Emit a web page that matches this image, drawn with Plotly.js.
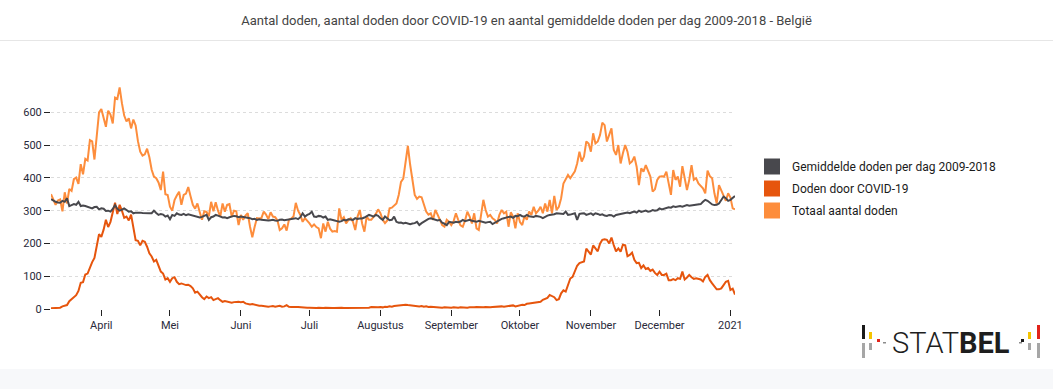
<!DOCTYPE html>
<html><head><meta charset="utf-8">
<script src="https://cdn.plot.ly/plotly-3.0.1.min.js"></script>
<style>html,body{margin:0;padding:0;background:#fff;} #chart{width:1053px;height:389px;}</style>
</head><body><div id="chart"></div>
<script>
// Daily series, 2020-03-10 .. 2021-01-03
const startDate = [2020, 2, 10];
const totaal = [
 350,336,318,331,334,298,356,322,366,360,396,401,382,442,411,458,453,515,511,456,534,600,
 610,586,556,605,593,566,645,641,676,628,590,572,582,551,578,560,512,480,468,472,489,463,425,404,399,386,363,419,350,348,
 312,300,332,346,358,318,348,352,372,344,318,306,322,296,272,298,296,283,327,298,326,300,282,322,297,318,320,282,300,298,256,
 287,272,285,292,251,219,250,277,276,278,297,288,274,295,282,280,270,241,246,258,239,272,276,282,324,300,287,266,277,270,
 261,251,258,250,246,216,261,236,266,245,236,238,236,307,272,280,261,272,277,266,241,282,302,261,236,282,272,272,280,290,304,
 292,272,262,270,307,309,316,322,348,388,398,445,498,440,395,348,336,343,341,320,297,288,292,272,302,288,272,256,251,272,266,
 256,268,292,272,255,251,270,297,282,261,292,246,241,287,333,302,282,287,277,272,261,287,302,292,297,251,295,282,246,292,
 265,256,284,272,297,287,312,292,300,312,292,322,297,333,292,345,302,312,338,383,394,409,399,409,420,444,480,450,465,511,505,
 480,536,505,511,531,568,561,511,531,551,485,470,500,444,475,500,480,444,450,465,434,378,429,419,439,419,404,358,365,394,
 404,405,404,419,383,348,424,394,404,373,436,404,363,394,439,394,399,383,375,368,353,422,405,399,353,322,378,360,348,330,353,
 340,307,304
];
const covid = [
 2,2,3,4,4,8,10,12,24,30,36,42,55,80,82,105,108,128,143,156,188,228,
 220,242,272,250,266,292,324,290,318,300,278,282,270,288,252,210,208,194,208,205,190,170,160,145,150,130,114,108,90,94,
 83,94,97,83,76,78,75,73,74,70,63,50,53,44,36,30,38,33,36,27,30,33,27,22,24,23,20,19,21,22,22,
 21,22,17,15,14,15,13,12,10,10,9,7,7,8,9,7,8,10,7,8,12,7,6,5,6,6,5,5,4,4,
 4,3,4,3,4,3,3,4,3,4,3,3,4,3,4,3,3,4,3,4,3,5,4,3,4,5,4,6,5,4,5,
 6,5,7,6,8,7,9,10,12,11,12,13,12,11,12,9,10,8,9,7,8,6,7,6,5,6,5,4,5,4,5,
 4,5,4,4,5,4,5,4,5,4,5,6,5,4,5,6,5,5,6,7,6,7,8,7,8,10,9,11,8,10,
 12,13,12,16,17,18,20,19,21,22,28,30,34,43,40,36,27,30,48,57,53,72,93,98,118,132,140,143,145,184,176,
 166,194,185,176,199,211,213,211,200,218,195,176,185,175,196,194,161,165,172,150,140,141,125,133,122,125,116,120,110,104,
 114,104,104,108,88,88,91,88,94,92,114,90,96,104,97,92,94,91,90,84,98,104,88,78,68,60,60,63,73,83,86,
 58,62,44
];
const gemiddeld = [
 335,330,327,325,324,330,327,338,314,317,320,318,327,314,316,314,312,310,307,311,312,304,
 307,306,299,300,297,305,317,306,300,303,307,302,297,298,292,294,295,294,293,292,293,292,292,300,293,287,290,288,282,285,
 274,287,284,292,288,287,290,286,289,287,287,283,282,279,281,285,287,272,280,282,287,285,283,279,280,277,280,282,284,283,280,
 282,281,279,278,277,274,275,272,274,272,271,270,270,271,272,270,269,272,273,271,272,273,274,274,277,274,280,292,282,287,
 290,297,282,281,284,283,279,282,272,274,273,270,268,266,268,272,270,274,273,272,277,275,276,276,279,282,287,285,282,287,284,
 277,272,282,275,271,272,282,266,263,264,261,263,262,259,261,262,266,256,262,266,272,275,277,274,271,270,272,263,260,256,266,
 264,263,266,265,267,272,268,270,272,269,267,266,269,267,266,263,265,266,259,263,266,272,275,277,280,281,282,278,284,283,
 287,283,282,287,283,282,281,284,283,281,277,282,285,287,287,289,292,291,289,290,297,287,288,289,292,272,290,291,292,287,290,
 292,287,292,290,287,289,285,284,287,286,282,287,289,290,292,293,294,292,295,297,294,300,296,298,300,297,298,302,300,301,
 307,304,306,308,310,309,313,311,312,314,312,314,317,315,316,317,318,319,320,327,333,330,324,319,317,318,322,333,343,338,330,
 333,338,345
];
const seriesNames = ['Gemiddelde doden per dag 2009-2018', 'Doden door COVID-19', 'Totaal aantal doden'];
const seriesColors = ['#48484d', '#e6550d', '#fd8d3c'];
const tickDates = ['2020-04-01','2020-05-01','2020-06-01','2020-07-01','2020-08-01','2020-09-01','2020-10-01','2020-11-01','2020-12-01','2021-01-01'];
const tickLabels = ['April','Mei','Juni','Juli','Augustus','September','Oktober','November','December','2021'];
const yTicks = [0,100,200,300,400,500,600];
const titleText = 'Aantal doden, aantal doden door COVID-19 en aantal gemiddelde doden per dag 2009-2018 - België';

function makeDates(n){
  const t0 = Date.UTC(startDate[0], startDate[1], startDate[2]);
  const out = [];
  for (let i = 0; i < n; i++) out.push(new Date(t0 + i*86400000).toISOString().slice(0,10));
  return out;
}
const dates = makeDates(totaal.length);

// pixel helpers for decorative shapes (plot area 51..735 x 80..309)
const L = 51, R = 735, T = 80, B = 309;
const px = x => (x - L) / (R - L);
const py = y => (B - y) / (B - T);

const traces = [
  {x: dates, y: totaal, type: 'scatter', mode: 'lines', name: seriesNames[2], showlegend: false,
   line: {color: seriesColors[2], width: 2}, hoverinfo: 'skip'},
  {x: dates, y: covid, type: 'scatter', mode: 'lines', name: seriesNames[1], showlegend: false,
   line: {color: seriesColors[1], width: 2}, hoverinfo: 'skip'},
  {x: dates, y: gemiddeld, type: 'scatter', mode: 'lines', name: seriesNames[0], showlegend: false,
   line: {color: seriesColors[0], width: 2}, hoverinfo: 'skip'}
];
seriesNames.forEach((n, i) => {
  traces.push({x: [null], y: [null], type: 'scatter', mode: 'markers', name: n, legendgroup: 'g' + i,
    marker: {symbol: 'square', size: 16, color: seriesColors[i]}, showlegend: true});
});

function rect(x0, y0, x1, y1, color){
  return {type: 'rect', xref: 'paper', yref: 'paper', x0: px(x0), x1: px(x1), y0: py(y1), y1: py(y0),
    fillcolor: color, line: {width: 0}, layer: 'above'};
}
const shapes = [
  {type: 'line', xref: 'paper', yref: 'paper', x0: px(0), x1: px(1053), y0: py(40.5), y1: py(40.5),
   line: {color: '#e6e6e6', width: 1}},
  {type: 'rect', xref: 'paper', yref: 'paper', x0: px(0), x1: px(1053), y0: py(389), y1: py(369),
   fillcolor: '#f7f8fa', line: {width: 0}, layer: 'below'},
  // STATBEL logo bars (left)
  rect(862, 325, 865, 339, '#1a1a1a'),
  rect(862, 343, 865, 358, '#a6a6a6'),
  rect(869, 332, 872, 339, '#f5c400'),
  rect(869, 343, 872, 350, '#a6a6a6'),
  rect(877, 339, 880, 342, '#e2231a'),
  rect(883, 342, 886, 343.5, '#8c8c8c'),
  // right
  rect(1019, 342, 1022, 343.5, '#8c8c8c'),
  rect(1021, 339, 1024, 342, '#1a1a1a'),
  rect(1028, 332, 1031, 339, '#f5c400'),
  rect(1028, 343, 1031, 350, '#a6a6a6'),
  rect(1037, 325, 1040, 339, '#e2231a'),
  rect(1037, 343, 1040, 358, '#a6a6a6')
];

const layout = {
  width: 1053, height: 389,
  margin: {l: L, r: 1053 - R, t: T, b: 389 - B, pad: 0},
  paper_bgcolor: '#ffffff', plot_bgcolor: '#ffffff',
  font: {family: 'Roboto, sans-serif', size: 11, color: '#333'},
  title: {text: titleText, xref: 'container', x: 0.5, xanchor: 'center', y: 0.947, yanchor: 'middle',
    font: {family: 'Roboto, sans-serif', size: 13, color: '#444'}},
  xaxis: {type: 'date', range: [dates[0], dates[dates.length - 1]], tickmode: 'array', tickvals: tickDates, ticktext: tickLabels,
    showgrid: false, zeroline: false, showline: false, ticks: 'outside', ticklen: 6, tickcolor: '#222', tickwidth: 1,
    tickfont: {size: 11, color: '#2a2a3a'}, fixedrange: true},
  yaxis: {range: [0, (B - T) / 0.3278], tickmode: 'array', tickvals: yTicks, showgrid: true, gridcolor: '#dcdcdc', griddash: 'dot',
    gridwidth: 1, zeroline: false, showline: false, ticks: 'outside', ticklen: 6, tickcolor: '#222', tickwidth: 1,
    tickfont: {size: 11, color: '#2a2a3a'}, fixedrange: true},
  legend: {x: px(752), xanchor: 'left', y: py(152), yanchor: 'top', bgcolor: 'rgba(0,0,0,0)',
    font: {family: 'Roboto, sans-serif', size: 12, color: '#1a1a1a'}, tracegroupgap: 3, itemwidth: 30},
  shapes: shapes,
  annotations: [{xref: 'paper', yref: 'paper', x: px(950.5), y: py(343), xanchor: 'center', yanchor: 'middle',
    text: 'STAT<b>BEL</b>', showarrow: false, font: {family: 'Roboto, sans-serif', size: 29, color: '#1e1e1e', weight: 300}}],
  showlegend: true
};
Plotly.newPlot('chart', traces, layout, {displayModeBar: false, staticPlot: true});
</script></body></html>
